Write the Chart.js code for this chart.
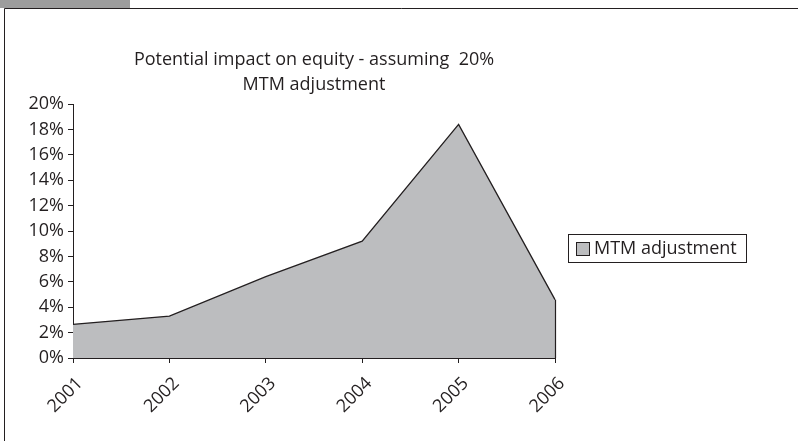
<!DOCTYPE html>
<html>
<head>
<meta charset="utf-8">
<script src="https://cdn.jsdelivr.net/npm/chart.js@4/dist/chart.umd.min.js"></script>
<style>
  html, body { margin: 0; padding: 0; background: #ffffff; }
  #wrap { width: 798px; height: 441px; }
</style>
</head>
<body>
<div id="wrap"><canvas id="chart" width="798" height="441"></canvas></div>
<script>
const years = ["2001", "2002", "2003", "2004", "2005", "2006"];
const mtmAdjustment = [2.65, 3.3, 6.4, 9.2, 18.4, 4.6];
const yTicks = [0, 2, 4, 6, 8, 10, 12, 14, 16, 18, 20];
const seriesLabel = "MTM adjustment";
const titleLines = ["Potential impact on equity - assuming  20%", "MTM adjustment"];

const fontFamily = "'Open Sans', 'Noto Sans', sans-serif";
const fontSize = 18;
const textColor = "#231f20";
const fillGrey = "#bcbdbf";

// frame, tab, title, right edge of the area and the boxed legend
const decorations = {
    id: "decorations",
    beforeDraw: (chart) => {
        const { ctx } = chart;
        ctx.save();
        ctx.fillStyle = "#ffffff";
        ctx.fillRect(0, 0, chart.width, chart.height);
        ctx.fillStyle = "#9d9d9d";
        ctx.fillRect(0, 0, 130, 8);
        ctx.strokeStyle = "#231f20";
        ctx.lineWidth = 1;
        ctx.beginPath();
        ctx.moveTo(4.5, chart.height);
        ctx.lineTo(4.5, 8.5);
        ctx.lineTo(chart.width, 8.5);
        ctx.stroke();
        ctx.restore();
    },
    afterDraw: (chart) => {
        const { ctx, scales } = chart;
        const x = scales.x;
        const y = scales.y;
        ctx.save();

        // closing edge of the area at the last category
        const last = mtmAdjustment.length - 1;
        const xl = Math.round(x.getPixelForValue(last)) + 0.5;
        ctx.strokeStyle = "#231f20";
        ctx.lineWidth = 1.2;
        ctx.beginPath();
        ctx.moveTo(xl, y.getPixelForValue(mtmAdjustment[last]));
        ctx.lineTo(xl, y.getPixelForValue(0));
        ctx.stroke();

        // title
        const cx = (chart.chartArea.left + chart.chartArea.right) / 2;
        ctx.fillStyle = textColor;
        ctx.font = fontSize + "px " + fontFamily;
        ctx.textAlign = "center";
        ctx.textBaseline = "alphabetic";
        ctx.fillText(titleLines[0], cx, 65);
        ctx.fillText(titleLines[1], cx, 90);

        // legend
        ctx.lineWidth = 1;
        ctx.strokeStyle = "#231f20";
        ctx.strokeRect(568.5, 234.5, 178, 28);
        ctx.fillStyle = fillGrey;
        ctx.fillRect(576.5, 242.5, 13, 13);
        ctx.strokeRect(576.5, 242.5, 13, 13);
        ctx.fillStyle = textColor;
        ctx.textAlign = "left";
        ctx.textBaseline = "middle";
        ctx.fillText(seriesLabel, 594, 249);
        ctx.restore();
    },
};

const chartConfig = {
    type: "line",
    data: {
        labels: years,
        datasets: [
            {
                label: seriesLabel,
                data: mtmAdjustment,
                fill: "origin",
                backgroundColor: fillGrey,
                borderColor: "#231f20",
                borderWidth: 1.3,
                pointRadius: 0,
                tension: 0,
            },
        ],
    },
    options: {
        responsive: false,
        animation: false,
        maintainAspectRatio: false,
        layout: {
            padding: { top: 104, right: 243, bottom: 0, left: 0 },
        },
        scales: {
            x: {
                offset: false,
                grid: {
                    drawOnChartArea: false,
                    drawTicks: true,
                    tickLength: 5,
                    color: "#231f20",
                },
                border: { color: "#231f20", width: 1 },
                ticks: {
                    color: textColor,
                    font: { family: fontFamily, size: fontSize },
                    minRotation: 45,
                    maxRotation: 45,
                    padding: 10,
                    labelOffset: 7,
                    autoSkip: false,
                },
                afterFit: (scale) => {
                    scale.height = 83;
                },
            },
            y: {
                min: 0,
                max: 20,
                afterBuildTicks: (scale) => {
                    scale.ticks = yTicks.map((v) => ({ value: v }));
                },
                grid: {
                    drawOnChartArea: false,
                    drawTicks: true,
                    tickLength: 5,
                    color: "#231f20",
                },
                border: { color: "#231f20", width: 1 },
                ticks: {
                    color: textColor,
                    font: { family: fontFamily, size: fontSize },
                    padding: 4,
                    callback: (v) => v + "%",
                },
                afterFit: (scale) => {
                    scale.width = 73;
                },
            },
        },
        plugins: {
            legend: { display: false },
            title: { display: false },
            tooltip: { enabled: false },
        },
    },
    plugins: [decorations],
};

new Chart(document.getElementById("chart").getContext("2d"), chartConfig);
</script>
</body>
</html>
